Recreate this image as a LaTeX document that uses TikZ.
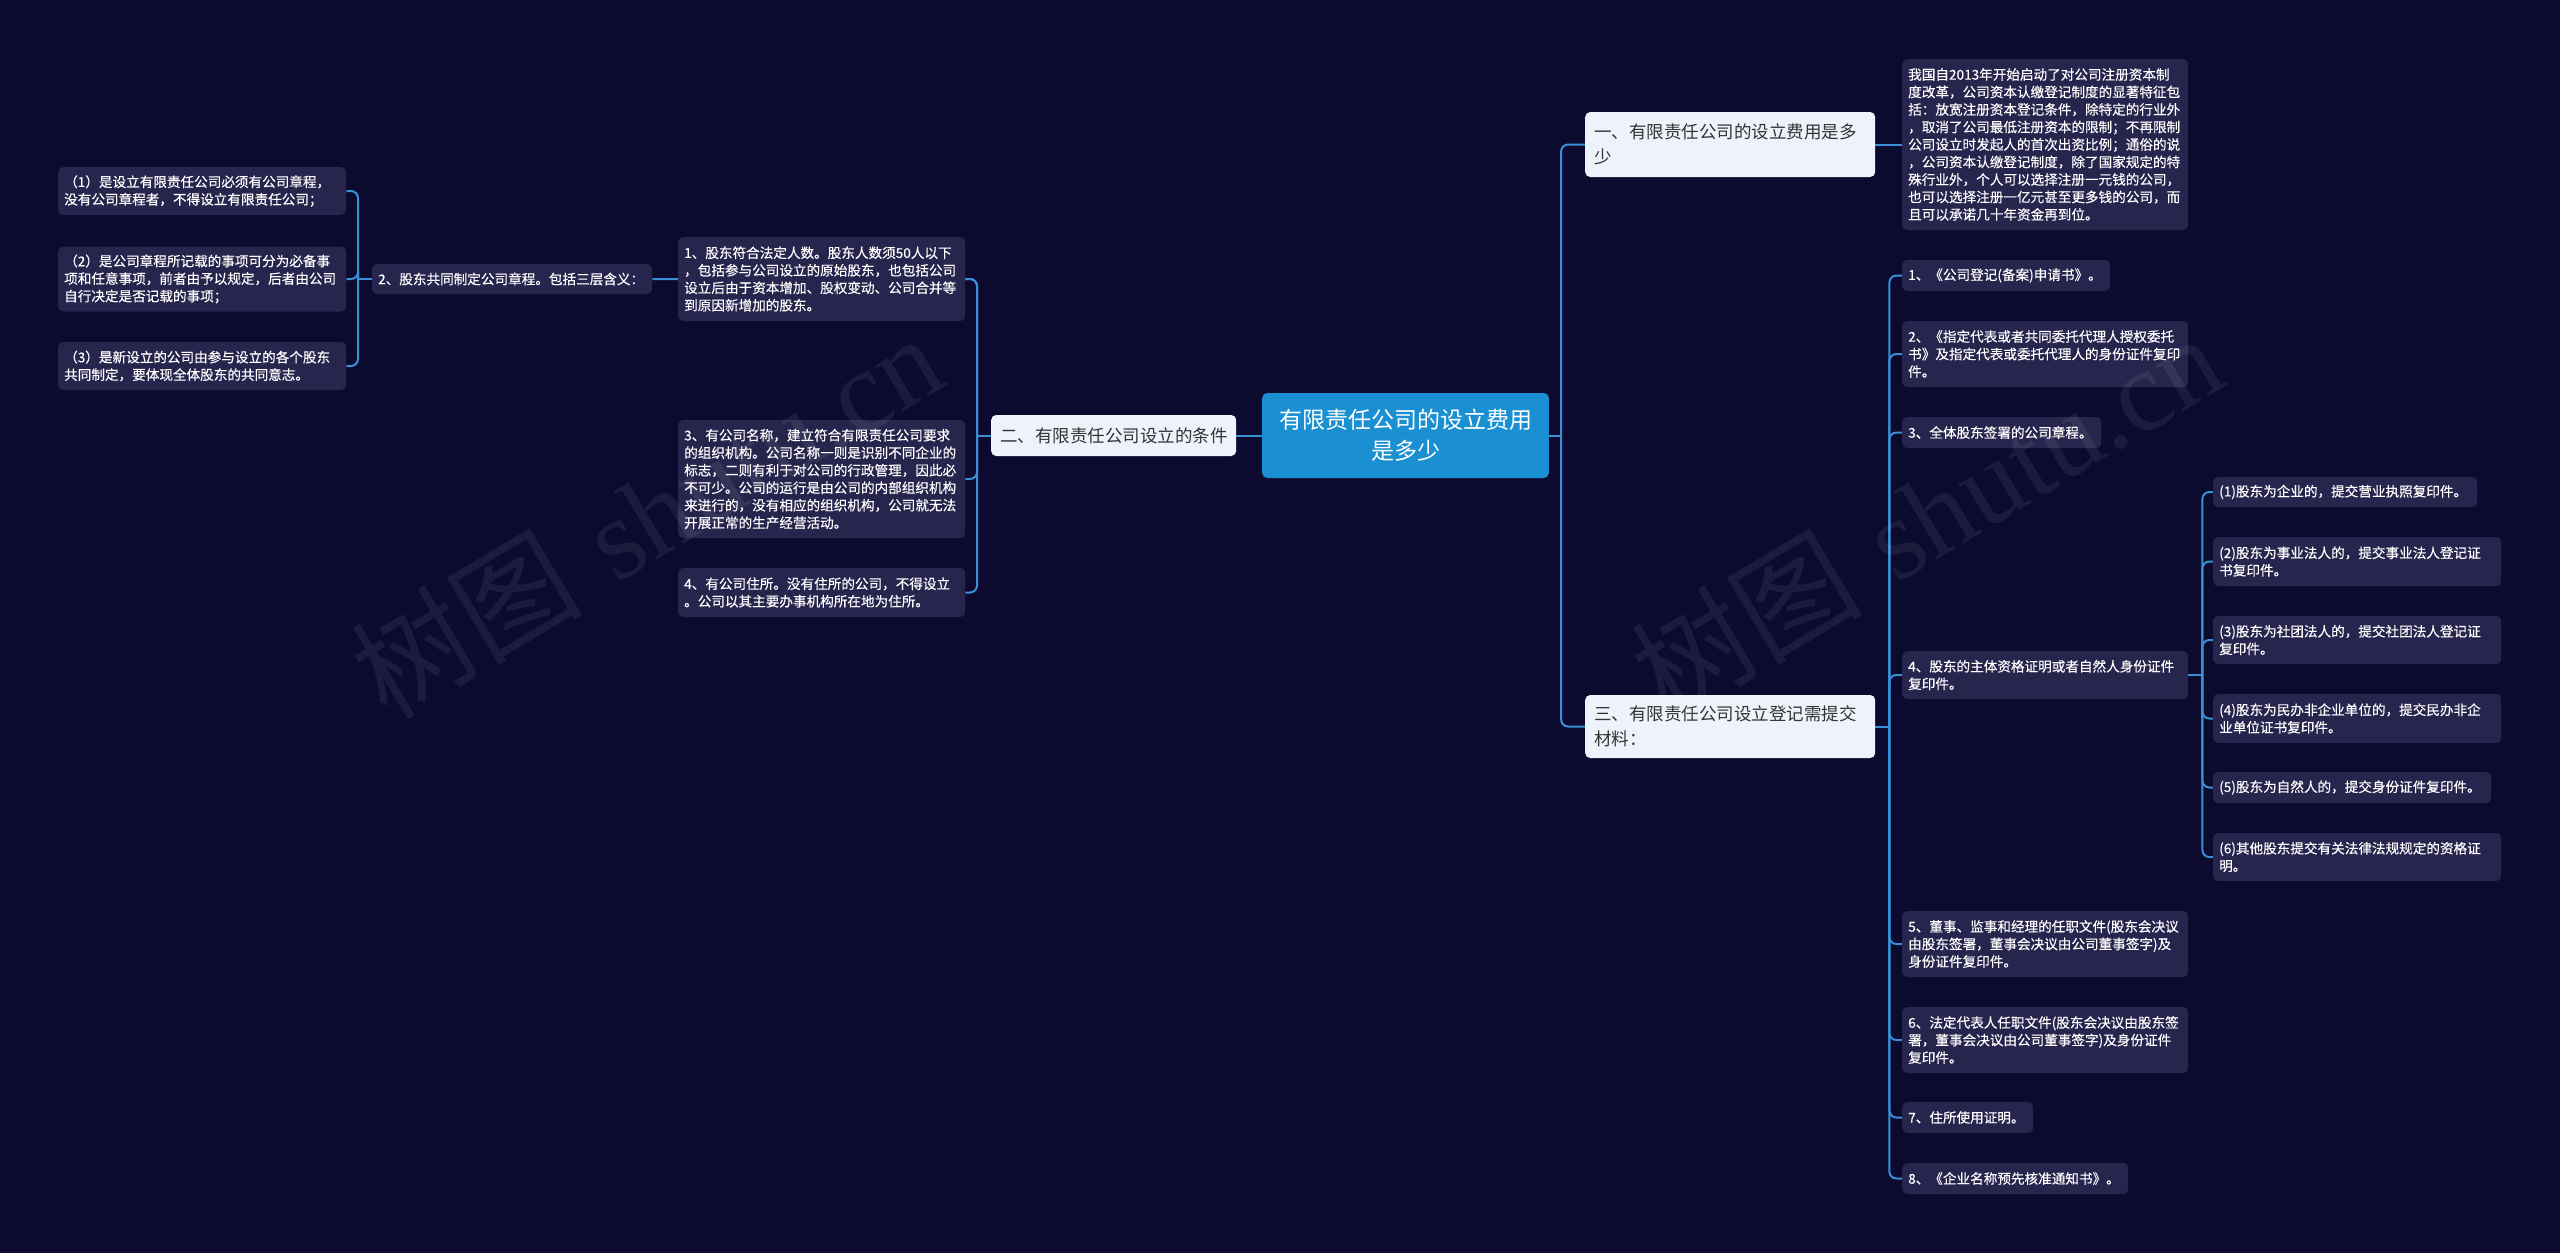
\documentclass[tikz,border=0pt]{standalone}
\usepackage{fontspec}
\newfontfamily\cjk{Noto Sans CJK SC}
\newfontfamily\cjkm{Noto Sans CJK SC}[FakeBold=0.3]
\newfontfamily\wmserif{Liberation Serif}
\usepackage{tikz}
\usetikzlibrary{positioning,calc}
\definecolor{BgNavy}{HTML}{0C0A2F}
\definecolor{LeafFill}{HTML}{27254D}
\definecolor{LinkBlue}{HTML}{3A8FD6}
\definecolor{RootBlue}{HTML}{1A90D2}
\definecolor{BranchFill}{HTML}{EEF3FB}
\definecolor{BranchText}{HTML}{333333}
\pgfdeclarelayer{back}
\pgfdeclarelayer{links}
\pgfsetlayers{back,links,main}
\tikzset{
  leaf/.style={fill=LeafFill,rounded corners=5pt,text=white,align=left,anchor=west,
    inner xsep=6pt,inner ysep=0pt,font=\cjkm\fontsize{13.6}{17.5}\selectfont},
  branch/.style={fill=BranchFill,rounded corners=5pt,text=BranchText,align=left,anchor=west,
    inner xsep=9pt,inner ysep=0pt,font=\cjk\fontsize{17.5}{25}\selectfont},
  link/.style={draw=LinkBlue,line width=2pt,rounded corners=7pt},
}

\begin{document}
\begin{tikzpicture}[x=1pt,y=-1pt]
  \useasboundingbox (0,0) rectangle (2560,1253);
  \begin{pgfonlayer}{back}
    \fill[BgNavy] (0,0) rectangle (2560,1253);
  \end{pgfonlayer}

  % root and main branches
  \node[fill=RootBlue,rounded corners=5pt,text=white,align=center,anchor=west,
    text width=280pt,minimum height=85pt,inner ysep=0pt,
    font=\cjk\fontsize{23}{31}\selectfont] (root) at (1262,435.5) {有限责任公司的设立费用\\是多少};
  \node[branch,text width=227pt,minimum height=41pt] (B2) at (991,435.5) {二、有限责任公司设立的条件};
  \node[branch,text width=272pt,minimum height=65pt] (B1) at (1585,144.5) {一、有限责任公司的设立费用是多\\少};
  \node[branch,text width=272pt,minimum height=63pt] (B3) at (1585,726.5) {三、有限责任公司设立登记需提交\\材料：};

  % text boxes
  \foreach \nm/\x/\y/\w/\h/\txt in {
    L1/58/191/288/48/{（1）是设立有限责任公司必须有公司章程，\\没有公司章程者，不得设立有限责任公司；},
    L2/58/279/288/65/{（2）是公司章程所记载的事项可分为必备事\\项和任意事项，前者由予以规定，后者由公司\\自行决定是否记载的事项；},
    L3/58/366/288/48/{（3）是新设立的公司由参与设立的各个股东\\共同制定，要体现全体股东的共同意志。},
    N2/372/279/280/30/{2、股东共同制定公司章程。包括三层含义：},
    M1/678/279/287/84/{1、股东符合法定人数。股东人数须50人以下\\，包括参与公司设立的原始股东，也包括公司\\设立后由于资本增加、股权变动、公司合并等\\到原因新增加的股东。},
    M3/678/479/287/118/{3、有公司名称，建立符合有限责任公司要求\\的组织机构。公司名称一则是识别不同企业的\\标志，二则有利于对公司的行政管理，因此必\\不可少。公司的运行是由公司的内部组织机构\\来进行的，没有相应的组织机构，公司就无法\\开展正常的生产经营活动。},
    M4/678/592.5/287/49/{4、有公司住所。没有住所的公司，不得设立\\。公司以其主要办事机构所在地为住所。},
    D/1902/144.5/286/171/{我国自2013年开始启动了对公司注册资本制\\度改革，公司资本认缴登记制度的显著特征包\\括：放宽注册资本登记条件，除特定的行业外\\，取消了公司最低注册资本的限制；不再限制\\公司设立时发起人的首次出资比例；通俗的说\\，公司资本认缴登记制度，除了国家规定的特\\殊行业外，个人可以选择注册一元钱的公司，\\也可以选择注册一亿元甚至更多钱的公司，而\\且可以承诺几十年资金再到位。},
    R1/1902/275.5/208/31/{1、《公司登记(备案)申请书》。},
    R2/1902/354/286/66/{2、《指定代表或者共同委托代理人授权委托\\书》及指定代表或委托代理人的身份证件复印\\件。},
    R3/1902/432.5/199/31/{3、全体股东签署的公司章程。},
    R4/1902/675/286/48/{4、股东的主体资格证明或者自然人身份证件\\复印件。},
    R5/1902/944/286/66/{5、董事、监事和经理的任职文件(股东会决议\\由股东签署，董事会决议由公司董事签字)及\\身份证件复印件。},
    R6/1902/1040/286/66/{6、法定代表人任职文件(股东会决议由股东签\\署，董事会决议由公司董事签字)及身份证件\\复印件。},
    R7/1902/1117.5/131/31/{7、住所使用证明。},
    R8/1902/1178.5/226/31/{8、《企业名称预先核准通知书》。},
    S1/2213/492/264/30/{(1)股东为企业的，提交营业执照复印件。},
    S2/2213/561.5/288/49/{(2)股东为事业法人的，提交事业法人登记证\\书复印件。},
    S3/2213/640/288/48/{(3)股东为社团法人的，提交社团法人登记证\\复印件。},
    S4/2213/718.5/288/49/{(4)股东为民办非企业单位的，提交民办非企\\业单位证书复印件。},
    S5/2213/787.5/278/31/{(5)股东为自然人的，提交身份证件复印件。},
    S6/2213/857/288/48/{(6)其他股东提交有关法律法规规定的资格证\\明。}}{
    \pgfmathsetmacro\tw{\w-12}
    \node[leaf,text width=\tw pt,minimum height=\h pt] (\nm) at (\x,\y) {\txt};
  }

  % connectors
  \begin{pgfonlayer}{links}
    \draw[link] (B2.east) -- (root.west);
    \draw[link] (B1.east) -- (D.west);
    \draw[link] (root.east) -- ++(12,0) coordinate (kR);
    \foreach \c in {B1,B3} \draw[link] (kR) |- (\c.west);
    \draw[link] (B2.west) -- ++(-14,0) coordinate (kM);
    \foreach \c in {M1,N2,M3,M4} \draw[link] (kM) |- (\c.east);
    \draw[link] (N2.west) -- ++(-14,0) coordinate (kL);
    \foreach \c in {L1,L2,L3} \draw[link] (kL) |- (\c.east);
    \draw[link] (B3.east) -- ++(14,0) coordinate (kT);
    \foreach \c in {R1,R2,R3,R4,R5,R6,R7,R8} \draw[link] (kT) |- (\c.west);
    \draw[link] (R4.east) -- ++(14,0) coordinate (kS);
    \foreach \c in {S1,S2,S3,S4,S5,S6} \draw[link] (kS) |- (\c.west);
  \end{pgfonlayer}

  % watermarks
  \foreach \wx/\nm in {646/wmL,1926/wmR}
    \node[rotate=31,opacity=0.07,text=white,font=\fontsize{116}{116}\selectfont] (\nm) at (\wx,515) {{\cjk 树图} {\wmserif shutu.cn}};
\end{tikzpicture}
\end{document}
